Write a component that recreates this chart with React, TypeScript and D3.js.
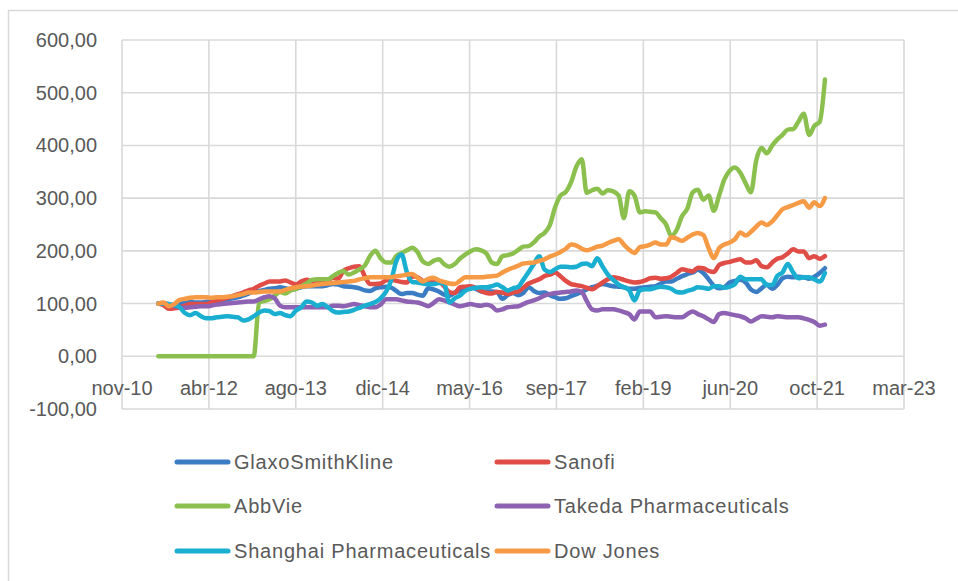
import React from 'react';
import * as d3 from 'd3';

// monthly closes rebased to 100, Jun 2011 .. Dec 2021
const FIRST_MONTH = new Date(2011, 5, 15);

const GSK = [
  100, 101, 97, 96, 99, 102, 103, 102, 102, 103, 104, 105, 106, 108, 110, 112, 115, 119, 123, 124,
  126, 128, 129, 131, 129, 127, 128, 131, 133, 133, 133, 133, 135, 137, 136, 133, 132, 131, 129, 125,
  124, 129, 131, 132, 130, 124, 118, 120, 120, 117, 115, 129, 127, 123, 117, 115, 121, 124, 128, 131,
  128, 123, 123, 123, 122, 109, 116, 120, 116, 120, 131, 124, 120, 121, 116, 112, 109, 110, 114, 118,
  122, 127, 131, 134, 137, 135, 133, 132, 131, 128, 128, 130, 131, 132, 133, 138, 142, 142, 147, 152,
  156, 159, 164, 158, 146, 134, 129, 131, 140, 143, 145, 140, 127, 122, 129, 136, 128, 135, 148, 151,
  150, 151, 150, 147, 151, 158, 167,
];

const SANOFI = [
  100, 97, 90, 91, 93, 96, 99, 99, 99, 99, 102, 105, 108, 111, 114, 118, 121, 125, 128, 134,
  138, 142, 142, 142, 144, 140, 136, 142, 145, 142, 142, 142, 144, 149, 147, 162, 167, 170, 171, 152,
  137, 137, 138, 144, 145, 143, 141, 140, 152, 150, 143, 141, 140, 142, 133, 122, 120, 131, 132, 133,
  130, 124, 120, 119, 122, 121, 118, 121, 123, 130, 138, 142, 146, 152, 155, 159, 152, 143, 137, 135,
  133, 130, 127, 133, 140, 146, 150, 148, 145, 142, 140, 141, 144, 148, 149, 147, 148, 151, 158, 165,
  163, 161, 168, 167, 162, 160, 173, 177, 179, 182, 184, 178, 178, 182, 171, 169, 178, 185, 188, 195,
  203, 199, 199, 186, 190, 185, 190,
];

const ABBVIE = [
  0, 0, 0, 0, 0, 0, 0, 0, 0, 0, 0, 0, 0, 0, 0, 0, 0, 0, 0, 102,
  105, 108, 115, 122, 119, 125, 128, 133, 138, 145, 146, 146, 146, 152, 158, 162, 155, 159, 165, 172,
  190, 200, 186, 178, 178, 190, 196, 201, 206, 198, 180, 175, 181, 184, 175, 170, 175, 185, 193, 199,
  203, 201, 195, 178, 175, 190, 192, 195, 202, 208, 209, 216, 227, 234, 249, 283, 305, 312, 330, 360,
  374, 310, 315, 318, 309, 315, 313, 305, 262, 313, 305, 273, 275, 274, 273, 262, 250, 228, 240, 266,
  280, 311, 316, 297, 305, 276, 305, 335, 352, 358, 348, 328, 311, 372, 395, 385, 400, 411, 420, 430,
  431, 445, 460, 420, 437, 445, 525,
];

const TAKEDA = [
  100, 100, 99, 95, 93, 92, 93, 94, 95, 95, 96, 98, 99, 100, 101, 102, 103, 104, 104, 108,
  112, 114, 110, 96, 93, 93, 93, 93, 93, 93, 93, 93, 93, 96, 96, 95, 97, 99, 97, 95,
  93, 93, 98, 108, 108, 108, 106, 104, 103, 102, 99, 95, 101, 108, 106, 102, 98, 95, 97, 99,
  97, 96, 98, 95, 87, 89, 93, 94, 95, 99, 103, 106, 110, 115, 118, 120, 121, 122, 123, 125,
  122, 105, 89, 87, 89, 89, 89, 87, 84, 80, 70, 85, 85, 85, 74, 75, 76, 75, 74, 74,
  80, 85, 80, 76, 70, 65, 80, 82, 80, 78, 76, 72, 66, 71, 76, 75, 74, 76, 75, 74,
  74, 74, 72, 69, 65, 58, 60,
];

const SHANGHAI = [
  100, 100, 99, 97, 93, 82, 78, 82, 76, 72, 72, 74, 75, 76, 75, 74, 68, 70, 76, 83,
  87, 86, 80, 82, 78, 76, 87, 93, 104, 102, 96, 99, 93, 86, 83, 84, 85, 88, 92, 96,
  99, 103, 110, 122, 145, 180, 193, 160, 141, 140, 138, 137, 137, 139, 138, 102, 110, 115, 124, 128,
  130, 131, 131, 133, 136, 131, 125, 129, 132, 145, 160, 175, 190, 165, 160, 165, 170, 170, 169, 170,
  175, 176, 171, 186, 170, 155, 145, 136, 131, 125, 106, 125, 127, 127, 130, 132, 131, 128, 122, 121,
  124, 127, 131, 130, 128, 133, 133, 130, 132, 137, 151, 146, 146, 146, 146, 135, 135, 152, 159, 175,
  159, 148, 150, 150, 146, 142, 158,
];

const DOW_JONES = [
  100, 102, 95, 99, 107, 109, 111, 112, 112, 112, 111, 112, 112, 113, 114, 116, 118, 121, 121, 122,
  123, 123, 123, 123, 126, 129, 131, 132, 133, 134, 136, 137, 138, 139, 140, 141, 142, 143, 146, 148,
  150, 150, 150, 150, 150, 152, 153, 155, 156, 149, 142, 147, 149, 144, 141, 138, 137, 143, 150, 150,
  150, 150, 151, 152, 153, 159, 164, 168, 172, 176, 177, 178, 181, 184, 189, 193, 198, 204, 212, 210,
  204, 201, 204, 208, 210, 215, 219, 222, 212, 202, 196, 207, 209, 212, 216, 212, 212, 226, 223, 219,
  225, 231, 234, 230, 205, 186, 205, 212, 216, 222, 235, 229, 236, 246, 254, 249, 256, 267, 279, 283,
  287, 291, 294, 282, 292, 285, 300,
];

const SERIES_NAMES = [
  'GlaxoSmithKline',
  'Sanofi',
  'AbbVie',
  'Takeda Pharmaceuticals',
  'Shanghai Pharmaceuticals',
  'Dow Jones',
];
const SERIES_VALUES = [GSK, SANOFI, ABBVIE, TAKEDA, SHANGHAI, DOW_JONES];
const SERIES_COLORS = ['#3B7DC4', '#E04C46', '#8BC04F', '#8E62B3', '#1AAFD0', '#F79A45'];

const Y_TICKS = [-100, 0, 100, 200, 300, 400, 500, 600];
// axis runs from 18-nov-2010 in steps of 500 days
const X_START = new Date(2010, 10, 18);
const X_STEP_DAYS = 500;
const X_TICK_COUNT = 10;

const FONT = 'Liberation Sans, Arial, sans-serif';
const TEXT = '#595959';
const GRID = '#d9d9d9';

const esTime = d3.timeFormatLocale({
  dateTime: '%d/%m/%Y %H:%M:%S',
  date: '%d/%m/%Y',
  time: '%H:%M:%S',
  periods: ['AM', 'PM'],
  days: ['domingo', 'lunes', 'martes', 'miércoles', 'jueves', 'viernes', 'sábado'],
  shortDays: ['dom', 'lun', 'mar', 'mié', 'jue', 'vie', 'sáb'],
  months: ['enero', 'febrero', 'marzo', 'abril', 'mayo', 'junio', 'julio', 'agosto', 'septiembre', 'octubre', 'noviembre', 'diciembre'],
  shortMonths: ['ene', 'feb', 'mar', 'abr', 'may', 'jun', 'jul', 'ago', 'sep', 'oct', 'nov', 'dic'],
});
const esNum = d3.formatLocale({ decimal: ',', thousands: '.', grouping: [3], currency: ['', ' €'], minus: '-' });
const fmtY = esNum.format('.2f');
const fmtX = esTime.format('%b-%y');

const App: React.FC = () => {
  const width = 958;
  const height = 581;
  const plot = { left: 122, right: 904, top: 40, bottom: 409 };

  const xTicks = d3.range(X_TICK_COUNT).map(k => d3.timeDay.offset(X_START, k * X_STEP_DAYS));
  const x = d3
    .scaleTime()
    .domain([X_START, xTicks[xTicks.length - 1]])
    .range([plot.left, plot.right]);
  const y = d3.scaleLinear().domain([-100, 600]).range([plot.bottom, plot.top]);

  const dates = GSK.map((_, i) => new Date(FIRST_MONTH.getFullYear(), FIRST_MONTH.getMonth() + i, 15));

  const line = d3
    .line<number>()
    .x((_, i) => x(dates[i]))
    .y(d => y(d))
    .curve(d3.curveMonotoneX);

  const legendCols = [177, 497];
  const legendRows = [462, 506, 551];

  return (
    <svg
      width={width}
      height={height}
      style={{ position: 'absolute', left: 0, top: 0, background: '#fff' }}
      fontFamily={FONT}
    >
      <rect x={8.5} y={10.5} width={1000} height={1000} fill="#fff" stroke={GRID} strokeWidth={1.5} />

      {/* grid */}
      {Y_TICKS.map(t => (
        <line key={'h' + t} x1={plot.left} x2={plot.right} y1={y(t)} y2={y(t)} stroke={GRID} strokeWidth={1.6} />
      ))}
      {xTicks.map(t => (
        <line key={'v' + t.getTime()} x1={x(t)} x2={x(t)} y1={plot.top} y2={plot.bottom} stroke={GRID} strokeWidth={1.6} />
      ))}

      {/* y labels */}
      {Y_TICKS.map(t => (
        <text key={'yl' + t} x={97} y={y(t)} dy="0.35em" textAnchor="end" fontSize={20} fill={TEXT}>
          {fmtY(t)}
        </text>
      ))}

      {/* x labels sit on the zero line */}
      {xTicks.map(t => (
        <text key={'xl' + t.getTime()} x={x(t)} y={y(0) + 39} textAnchor="middle" fontSize={20} fill={TEXT}>
          {fmtX(t)}
        </text>
      ))}

      {/* series */}
      {SERIES_VALUES.map((vals, s) => (
        <path
          key={SERIES_NAMES[s]}
          d={line(vals) ?? ''}
          fill="none"
          stroke={SERIES_COLORS[s]}
          strokeWidth={4.5}
          strokeLinejoin="round"
          strokeLinecap="round"
        />
      ))}

      {/* legend */}
      {SERIES_NAMES.map((name, s) => {
        const lx = legendCols[s % 2];
        const ly = legendRows[Math.floor(s / 2)];
        return (
          <g key={'lg' + name}>
            <line x1={lx} x2={lx + 51} y1={ly} y2={ly} stroke={SERIES_COLORS[s]} strokeWidth={5} strokeLinecap="round" />
            <text x={lx + 57} y={ly} dy="0.35em" fontSize={20} fill={TEXT} letterSpacing={0.8}>
              {name}
            </text>
          </g>
        );
      })}
    </svg>
  );
};

export default App;
